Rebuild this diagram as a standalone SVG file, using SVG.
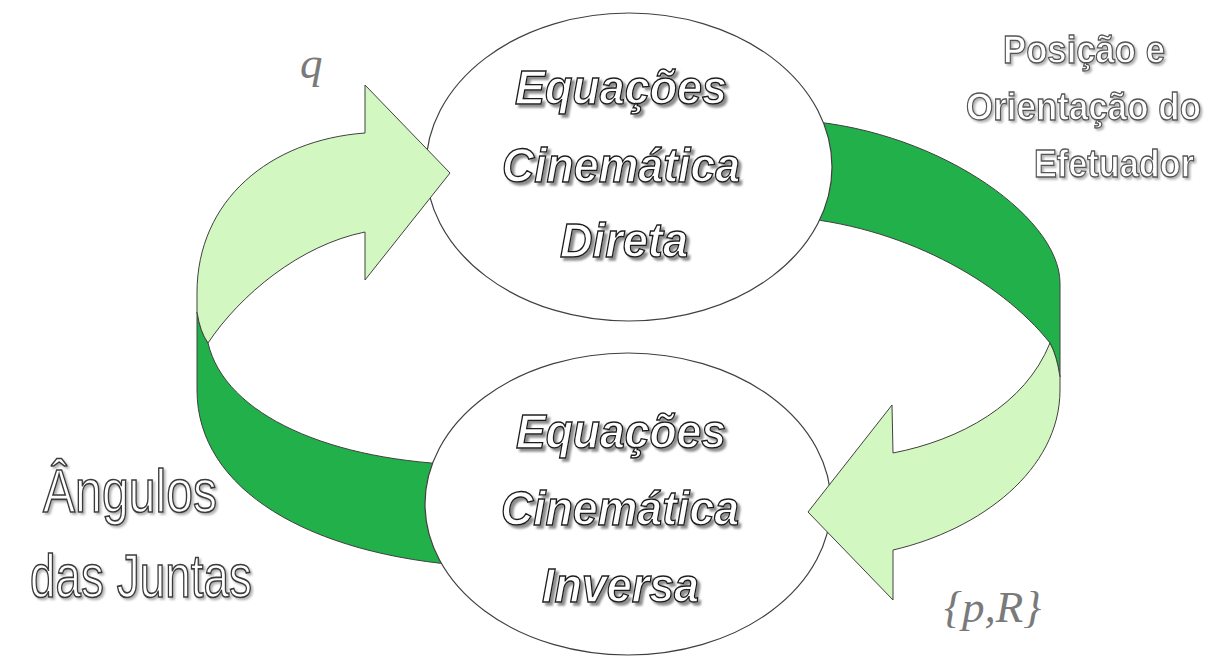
<svg xmlns="http://www.w3.org/2000/svg" width="1227" height="660" viewBox="0 0 1227 660">
<defs>
<style>
.dark{fill:#22B04B;stroke:#404040;stroke-width:1}
.light{fill:#D3F7C1;stroke:#404040;stroke-width:1}
.node{fill:#ffffff;stroke:#404040;stroke-width:1.2}
.et{font-family:"Liberation Sans",Arial,sans-serif;font-weight:bold;font-style:italic;font-size:49px;fill:#ffffff;stroke:#1a1a1a;stroke-width:1.4;filter:url(#sh)}
.st{font-family:"Liberation Sans",Arial,sans-serif;font-weight:bold;font-size:39px;fill:#ffffff;stroke:#555555;stroke-width:1.3;filter:url(#sh2)}
.lt{font-family:"Liberation Sans",Arial,sans-serif;font-size:61px;fill:#ffffff;stroke:#3a3a3a;stroke-width:1.7;filter:url(#sh2)}
.mt{font-family:"Liberation Serif","Times New Roman",serif;font-style:italic;font-size:45px;fill:#7a7a7a}
</style>
<filter id="sh" x="-10%" y="-20%" width="130%" height="150%">
<feDropShadow dx="3" dy="3" stdDeviation="0.8" flood-color="#808080" flood-opacity="0.9"/>
</filter>
<filter id="sh2" x="-10%" y="-20%" width="130%" height="150%">
<feDropShadow dx="2" dy="2" stdDeviation="0.8" flood-color="#a0a0a0" flood-opacity="0.8"/>
</filter>
</defs>
<rect width="1227" height="660" fill="#ffffff"/>
<g id="connectors">
<path id="band-left" class="dark" d="M208,343 C225,415 330,462 470,465 L470,566 C310,555 197,490 197,390 L197,312 Q200,332 208,343 Z"/>
<path id="band-right" class="dark" d="M790,120 C930,125 1060,215 1060,283 L1060,377 Q1057,356 1050,343 C1000,280 900,225 790,217 Z"/>
</g>
<g id="node-direta">
<ellipse class="node" cx="629" cy="167" rx="203" ry="154"/>
<text class="et" x="515" y="104" textLength="212" lengthAdjust="spacingAndGlyphs">Equações</text>
<text class="et" x="502" y="182" textLength="238" lengthAdjust="spacingAndGlyphs">Cinemática</text>
<text class="et" x="560" y="257" textLength="128" lengthAdjust="spacingAndGlyphs">Direta</text>
</g>
<g id="node-inversa">
<ellipse class="node" cx="628" cy="504" rx="203" ry="151"/>
<text class="et" x="516" y="448" textLength="210" lengthAdjust="spacingAndGlyphs">Equações</text>
<text class="et" x="501" y="525" textLength="238" lengthAdjust="spacingAndGlyphs">Cinemática</text>
<text class="et" x="542" y="602" textLength="157" lengthAdjust="spacingAndGlyphs">Inversa</text>
</g>
<g id="arrows">
<path id="arrow-q" class="light" d="M208,343 C240,295 300,245 365,232 L365,280 L450,173 L365,85 L365,133 C270,140 197,200 197,293 L197,312 Q200,332 208,343 Z"/>
<path id="arrow-pR" class="light" d="M1050,343 Q1057,356 1060,377 L1060,390 C1060,470 980,530 893,550 L893,600 L808,512 L892,405 L893,453 C960,440 1025,405 1050,343 Z"/>
</g>
<g id="labels">
<text class="mt" x="300" y="78">q</text>
<text class="mt" x="944" y="622">{p,R}</text>
<text class="st" x="1003" y="63" textLength="162" lengthAdjust="spacingAndGlyphs">Posição e</text>
<text class="st" x="966" y="120" textLength="235" lengthAdjust="spacingAndGlyphs">Orientação do</text>
<text class="st" x="1034" y="177" textLength="160" lengthAdjust="spacingAndGlyphs">Efetuador</text>
<text class="lt" x="43" y="512" textLength="174" lengthAdjust="spacingAndGlyphs">Ângulos</text>
<text class="lt" x="30" y="597" textLength="222" lengthAdjust="spacingAndGlyphs">das Juntas</text>
</g>
</svg>
